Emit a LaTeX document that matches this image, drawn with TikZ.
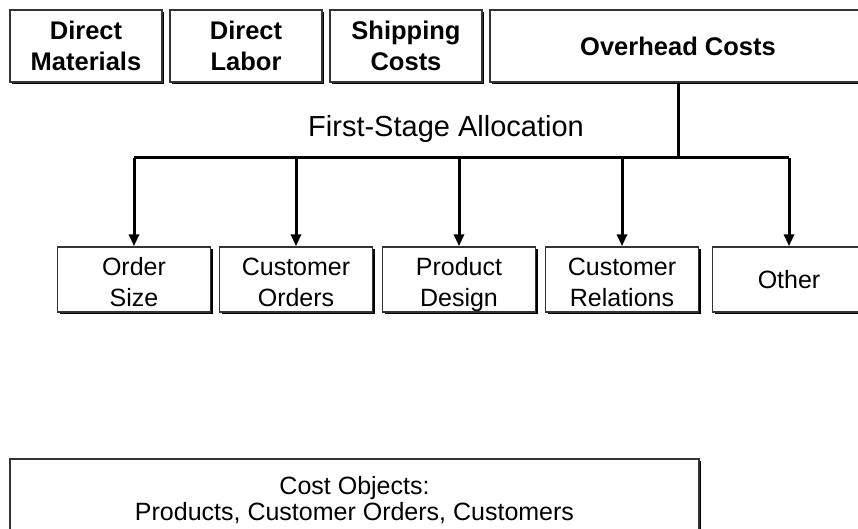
\documentclass[tikz,border=0pt]{standalone}
\usepackage{fontspec}
\setmainfont{Liberation Sans}
\usetikzlibrary{arrows.meta,positioning,shadows}

\newcommand{\pooltext}[2]{\rule{0pt}{28pt}#1\\#2\rule[-6pt]{0pt}{6pt}}

\begin{document}
\begin{tikzpicture}[
    x=1pt,y=-1pt,
    >={Triangle[length=12pt,width=10pt]},
    box/.style={rectangle,draw=black!80,line width=1.5pt,fill=white,align=center,inner sep=0pt,
        drop shadow={shadow xshift=2.2pt,shadow yshift=-2.2pt,fill=black,opacity=1}},
    costbox/.style={box,minimum width=152pt,minimum height=72pt,font=\bfseries\fontsize{25.5}{31}\selectfont},
    poolbox/.style={box,minimum width=153pt,minimum height=65pt,font=\fontsize{25}{31}\selectfont},
    link/.style={line width=3pt}
]
\useasboundingbox (0,0) rectangle (858,529);
\clip (0,0) rectangle (858,529);

% Cost categories
\node[costbox] (dm) at (86,46) {Direct\\Materials};
\node[costbox] (dl) at (246,46) {Direct\\Labor};
\node[costbox] (sc) at (406,46) {Shipping\\Costs};
\node[costbox,minimum width=376pt] (oh) at (678,46) {Overhead Costs};

% Activity cost pools
\node[poolbox] (os) at (134,279.5) {\pooltext{Order}{Size}};
\node[poolbox] (co) at (296,279.5) {\pooltext{Customer}{Orders}};
\node[poolbox] (pd) at (459,279.5) {\pooltext{Product}{Design}};
\node[poolbox] (cr) at (622,279.5) {\pooltext{Customer}{Relations}};
\node[poolbox] (ot) at (789,279.5) {Other};

% First-stage allocation
\coordinate (split) at (678,158);
\node[font=\fontsize{29}{32}\selectfont] (fsa) at (446,129) {First-Stage Allocation};
\draw[link] (oh.south) -- (split);
\draw[link] (os.north |- split) -- (ot.north |- split);
\foreach \n in {os,co,pd,cr,ot}
  \draw[link,->] (\n.north |- split) -- (\n.north);

% Cost objects
\node[box,minimum width=689pt,minimum height=82pt,font=\fontsize{25}{26}\selectfont] (obj) at (354.5,500)
  {Cost Objects:\\Products, Customer Orders, Customers};

\end{tikzpicture}
\end{document}
